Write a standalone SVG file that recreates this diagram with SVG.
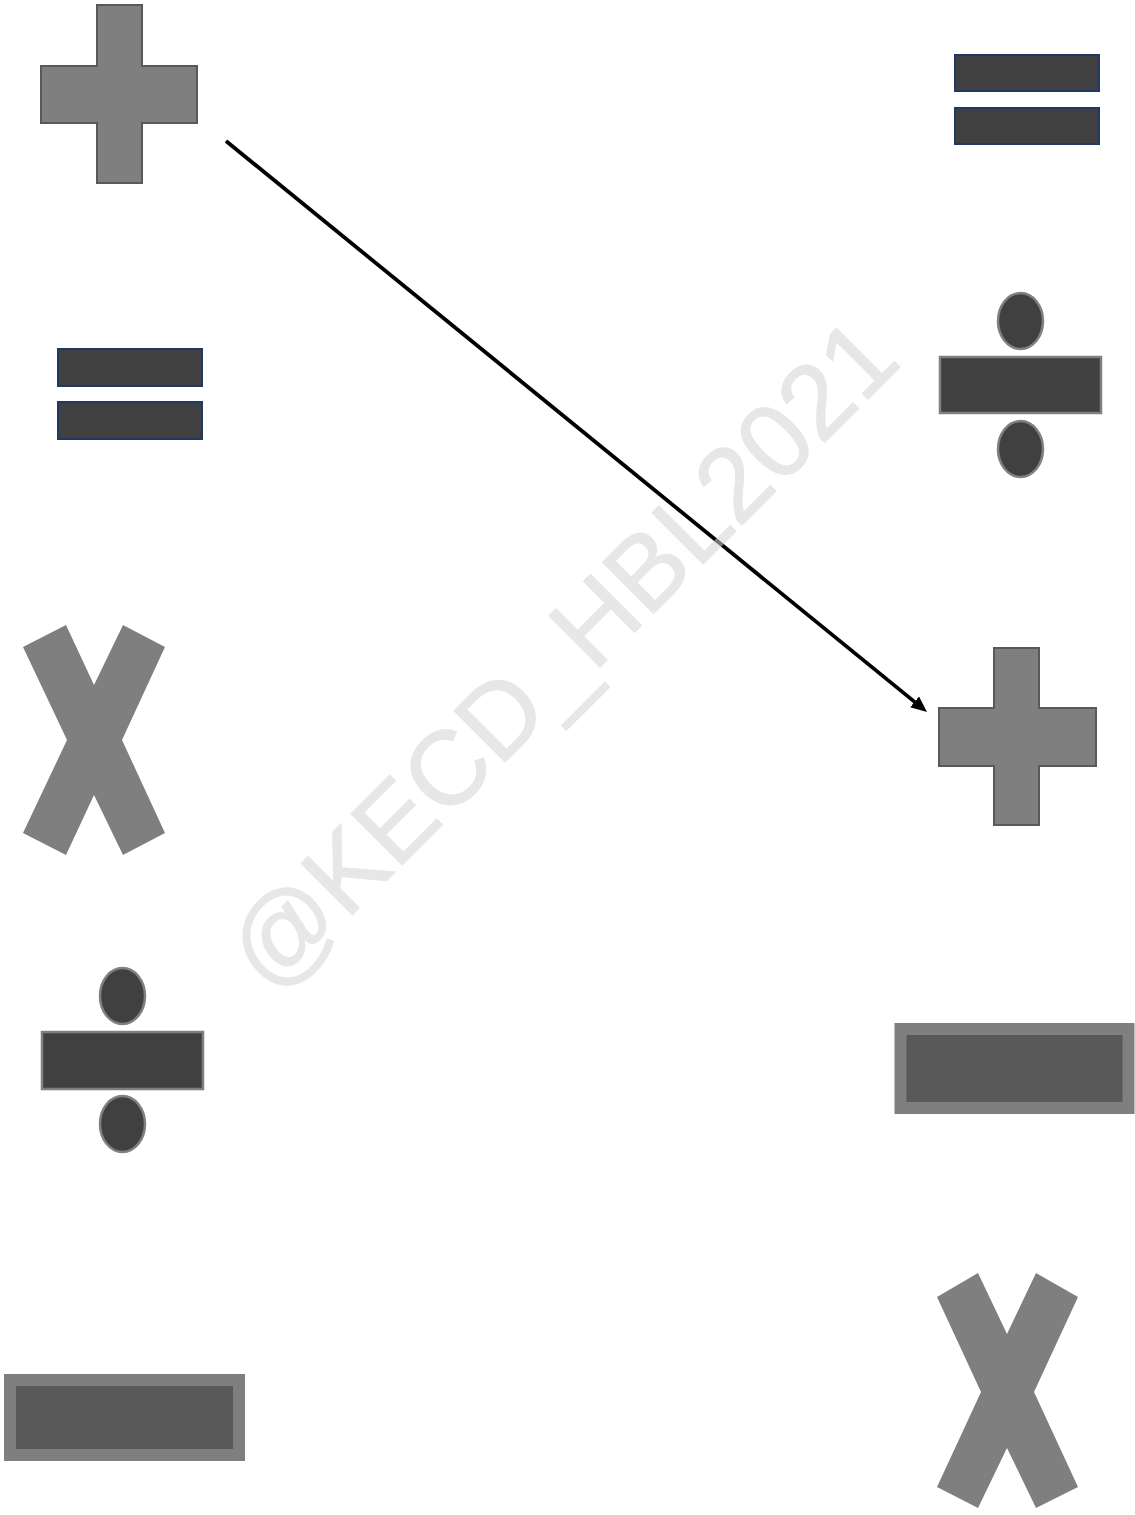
<svg xmlns="http://www.w3.org/2000/svg" width="1135" height="1515" viewBox="0 0 1135 1515">
<style>
.plus{fill:#7f7f7f;stroke:#595959;stroke-width:2}
.eq{fill:#404040;stroke:#203864;stroke-width:2}
.div{fill:#404040;stroke:#808080;stroke-width:2.5}
.minus{fill:#595959;stroke:#7f7f7f;stroke-width:12}
.times{fill:#7f7f7f}
.conn{fill:none;stroke:#000;stroke-width:3.8}
.wm{font-family:"Liberation Sans",Arial,sans-serif;font-size:105px;fill:#d4d4d4;stroke:#d4d4d4;stroke-width:1.2;opacity:0.55}
</style>
<defs>
<marker id="ah" markerUnits="userSpaceOnUse" markerWidth="18" markerHeight="16" refX="4" refY="7" orient="auto">
<path d="M0,0 L16,7 L0,14 z" fill="#000"/>
</marker>
</defs>
<rect width="1135" height="1515" fill="#fff"/>
<g id="plus-left"><polygon class="plus" points="97,5 142,5 142,66 197,66 197,123 142,123 142,183 97,183 97,123 41,123 41,66 97,66"/></g>
<g id="equals-left"><rect class="eq" x="58" y="349" width="144" height="37"/><rect class="eq" x="58" y="402" width="144" height="37"/></g>
<g id="times-left"><polygon class="times" points="23,647 66,625 94,685 123,625 165,647 122,740 165,833 123,855 94,795 66,855 23,833 67,740"/></g>
<g id="divide-left"><ellipse class="div" cx="122.5" cy="996" rx="22.5" ry="28"/><rect class="div" x="42" y="1032" width="161" height="57"/><ellipse class="div" cx="122.5" cy="1124" rx="22.5" ry="28"/></g>
<g id="minus-left"><rect class="minus" x="10" y="1380" width="229" height="75"/></g>
<g id="equals-right"><rect class="eq" x="955" y="55" width="144" height="36"/><rect class="eq" x="955" y="108" width="144" height="36"/></g>
<g id="divide-right"><ellipse class="div" cx="1020.5" cy="321" rx="22.5" ry="28"/><rect class="div" x="940" y="357" width="161" height="56"/><ellipse class="div" cx="1020.5" cy="449" rx="22.5" ry="28"/></g>
<g id="plus-right"><polygon class="plus" points="994,648 1039,648 1039,708 1096,708 1096,766 1039,766 1039,825 994,825 994,766 939,766 939,708 994,708"/></g>
<g id="minus-right"><rect class="minus" x="900.5" y="1029" width="228" height="79"/></g>
<g id="times-right"><polygon class="times" points="937,1297 978,1273 1007,1334 1036,1273 1078,1297 1034,1392 1078,1487 1036,1508 1007,1448 978,1508 937,1487 981,1392"/></g>
<g id="connectors"><line class="conn" x1="226" y1="141" x2="917.7" y2="704.4" marker-end="url(#ah)"/></g>
<text class="wm" x="271" y="996" transform="rotate(-45 271 996)">@KECD_HBL2021</text>
</svg>
